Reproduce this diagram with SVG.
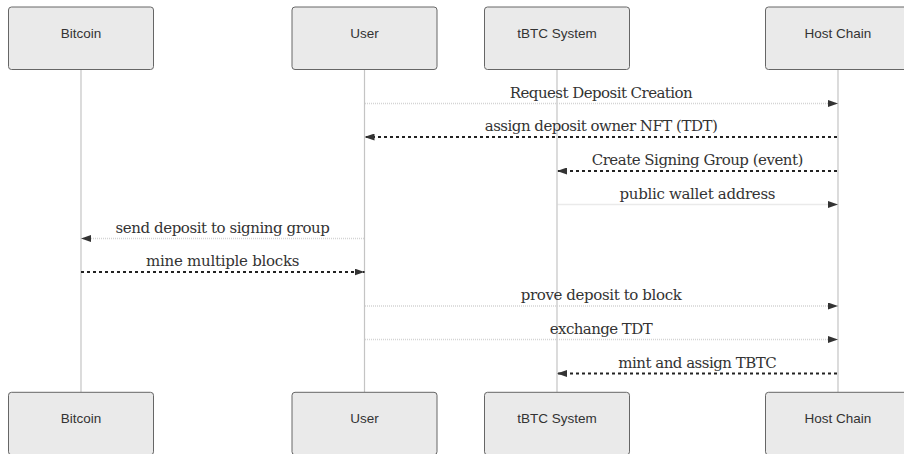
<svg xmlns="http://www.w3.org/2000/svg" width="904" height="454" viewBox="0 0 904 454">
<style>
.actor{fill:#eaeaea;stroke:#666;stroke-width:1}
.alabel{font-family:"Liberation Sans",Arial,sans-serif;font-size:13.5px;fill:#333;text-anchor:middle}
.life{stroke:#c4c4c4;stroke-width:1.2}
.sync{stroke:#d4d4d4;stroke-width:1.5;stroke-dasharray:1,1;fill:none}
.reply{stroke:#222;stroke-width:2;stroke-dasharray:3,3;fill:none}
.mlabel{font-family:"DejaVu Serif","Liberation Serif",serif;font-size:15px;fill:#333;text-anchor:middle}
</style>
<defs>
<marker id="ah" viewBox="0 0 10 7" refX="10" refY="3.5" markerUnits="userSpaceOnUse" markerWidth="10" markerHeight="7" orient="auto">
<path d="M0,0 L10,3.5 L0,7 z" fill="#333"/>
</marker>
</defs>
<rect width="904" height="454" fill="#fff"/>
<g id="lifelines">
<line class="life" x1="81" y1="69.5" x2="81" y2="392"/>
<line class="life" x1="364.5" y1="69.5" x2="364.5" y2="392"/>
<line class="life" x1="557" y1="69.5" x2="557" y2="392"/>
<line class="life" x1="838" y1="69.5" x2="838" y2="392"/>
</g>
<g id="actor-bitcoin-top"><rect class="actor" x="8.5" y="7" width="145" height="62.5" rx="3"/><text class="alabel" x="81" y="37.7">Bitcoin</text></g>
<g id="actor-user-top"><rect class="actor" x="292" y="7" width="145" height="62.5" rx="3"/><text class="alabel" x="364.5" y="37.7">User</text></g>
<g id="actor-tbtc-top"><rect class="actor" x="484.5" y="7" width="145" height="62.5" rx="3"/><text class="alabel" x="557" y="37.7">tBTC System</text></g>
<g id="actor-host-top"><rect class="actor" x="765.5" y="7" width="145" height="62.5" rx="3"/><text class="alabel" x="838" y="37.7">Host Chain</text></g>
<g id="actor-bitcoin-bottom"><rect class="actor" x="8.5" y="392.3" width="145" height="62.5" rx="3"/><text class="alabel" x="81" y="423.3">Bitcoin</text></g>
<g id="actor-user-bottom"><rect class="actor" x="292" y="392.3" width="145" height="62.5" rx="3"/><text class="alabel" x="364.5" y="423.3">User</text></g>
<g id="actor-tbtc-bottom"><rect class="actor" x="484.5" y="392.3" width="145" height="62.5" rx="3"/><text class="alabel" x="557" y="423.3">tBTC System</text></g>
<g id="actor-host-bottom"><rect class="actor" x="765.5" y="392.3" width="145" height="62.5" rx="3"/><text class="alabel" x="838" y="423.3">Host Chain</text></g>
<g id="connectors">
<line class="sync" x1="365" y1="103.5" x2="838" y2="103.5" marker-end="url(#ah)"/>
<text class="mlabel" x="601.25" y="97.5" textLength="183">Request Deposit Creation</text>
<line class="reply" x1="837" y1="137" x2="364.5" y2="137" marker-end="url(#ah)"/>
<text class="mlabel" x="601.25" y="131" textLength="233">assign deposit owner NFT (TDT)</text>
<line class="reply" x1="837" y1="171" x2="557" y2="171" marker-end="url(#ah)"/>
<text class="mlabel" x="697.5" y="165" textLength="211.6">Create Signing Group (event)</text>
<line class="sync" x1="557.5" y1="204.5" x2="838" y2="204.5" marker-end="url(#ah)"/>
<text class="mlabel" x="697.5" y="198.5" textLength="156">public wallet address</text>
<line class="sync" x1="364" y1="238.5" x2="81" y2="238.5" marker-end="url(#ah)"/>
<text class="mlabel" x="222.75" y="232.5" textLength="214.3">send deposit to signing group</text>
<line class="reply" x1="81" y1="272" x2="364.5" y2="272" marker-end="url(#ah)"/>
<text class="mlabel" x="222.75" y="266" textLength="153.3">mine multiple blocks</text>
<line class="sync" x1="365" y1="306" x2="838" y2="306" marker-end="url(#ah)"/>
<text class="mlabel" x="601.25" y="300" textLength="161">prove deposit to block</text>
<line class="sync" x1="365" y1="339.5" x2="838" y2="339.5" marker-end="url(#ah)"/>
<text class="mlabel" x="601.25" y="333.5" textLength="103">exchange TDT</text>
<line class="reply" x1="837" y1="373.5" x2="557" y2="373.5" marker-end="url(#ah)"/>
<text class="mlabel" x="697.5" y="367.5" textLength="158.3">mint and assign TBTC</text>
</g>
</svg>
